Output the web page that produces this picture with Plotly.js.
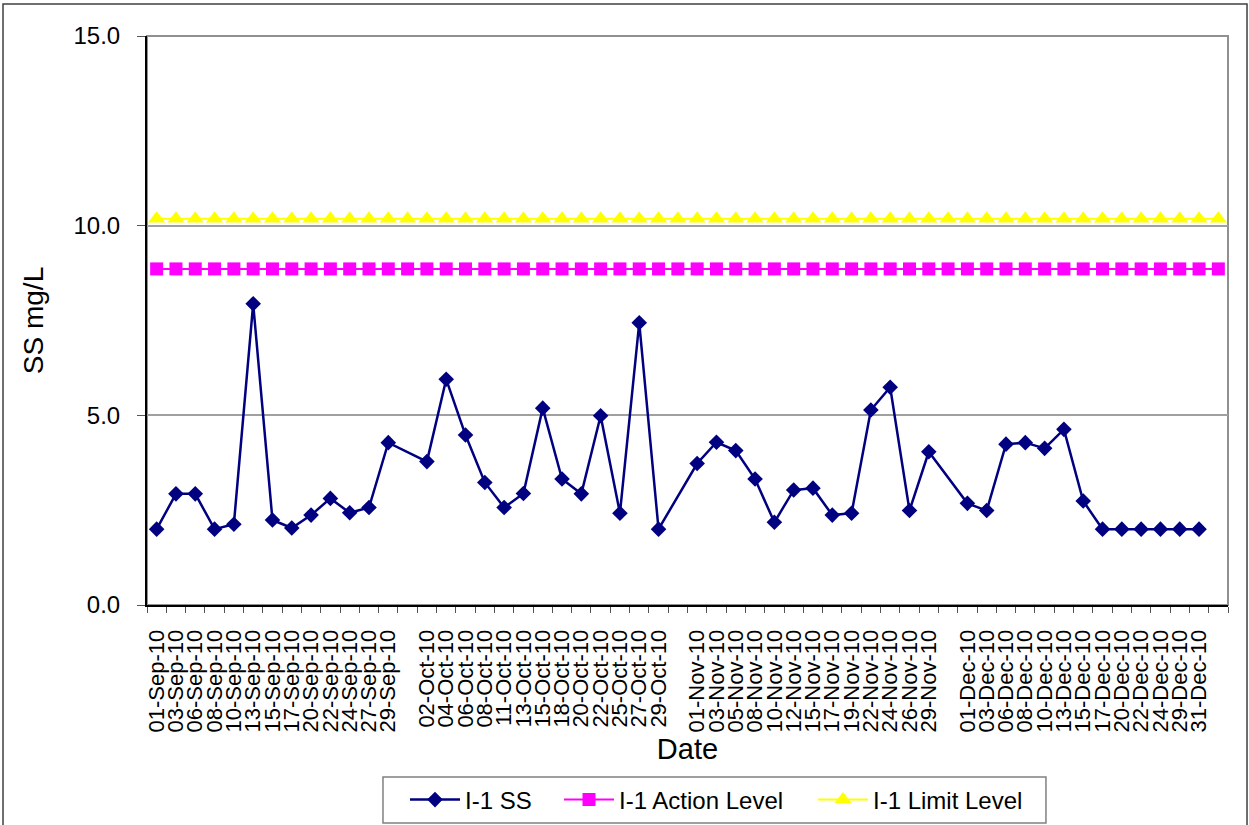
<!DOCTYPE html>
<html>
<head>
<meta charset="utf-8">
<script src="https://cdn.plot.ly/plotly-3.0.1.min.js"></script>
<style>
  html, body { margin: 0; padding: 0; background: #ffffff; }
  #chart { width: 1249px; height: 825px; }
</style>
</head>
<body>
<div id="chart"></div>
<script>
// Category axis (blank slots between months are kept as empty categories)
const categories = [
  '01-Sep-10','03-Sep-10','06-Sep-10','08-Sep-10','10-Sep-10','13-Sep-10','15-Sep-10','17-Sep-10','20-Sep-10','22-Sep-10','24-Sep-10','27-Sep-10','29-Sep-10',' ',
  '02-Oct-10','04-Oct-10','06-Oct-10','08-Oct-10','11-Oct-10','13-Oct-10','15-Oct-10','18-Oct-10','20-Oct-10','22-Oct-10','25-Oct-10','27-Oct-10','29-Oct-10','  ',
  '01-Nov-10','03-Nov-10','05-Nov-10','08-Nov-10','10-Nov-10','12-Nov-10','15-Nov-10','17-Nov-10','19-Nov-10','22-Nov-10','24-Nov-10','26-Nov-10','29-Nov-10','   ',
  '01-Dec-10','03-Dec-10','06-Dec-10','08-Dec-10','10-Dec-10','13-Dec-10','15-Dec-10','17-Dec-10','20-Dec-10','22-Dec-10','24-Dec-10','29-Dec-10','31-Dec-10','    '
];

// I-1 SS (mg/L); null where no sample
const ssValues = [
  2.00, 2.93, 2.93, 2.00, 2.13, 7.94, 2.24, 2.03, 2.37, 2.81, 2.43, 2.57, 4.28, null,
  3.78, 5.95, 4.48, 3.23, 2.57, 2.94, 5.19, 3.32, 2.93, 4.99, 2.42, 7.44, 2.00, null,
  3.73, 4.29, 4.07, 3.32, 2.18, 3.03, 3.08, 2.37, 2.42, 5.14, 5.74, 2.49, 4.04, null,
  2.68, 2.49, 4.24, 4.28, 4.13, 4.63, 2.74, 2.00, 2.00, 2.00, 2.00, 2.00, 2.00, null
];

const actionLevel = 8.86;
const limitLevel = 10.18;

const seriesNames = ['I-1 SS', 'I-1 Action Level', 'I-1 Limit Level'];
const yTickVals = [0, 5, 10, 15];

const actionValues = categories.map(() => actionLevel);
const limitValues = categories.map(() => limitLevel);

const FONT = 'Liberation Sans, Arial, sans-serif';

const traces = [
  {
    x: categories, y: ssValues, name: seriesNames[0], legend: 'legend',
    type: 'scatter', mode: 'lines+markers', connectgaps: true,
    line: { color: '#000080', width: 2.5 },
    marker: { symbol: 'diamond', size: 12, color: '#000080' }
  },
  {
    x: categories, y: actionValues, name: seriesNames[1], legend: 'legend2',
    type: 'scatter', mode: 'lines+markers',
    line: { color: '#FF00FF', width: 2 },
    marker: { symbol: 'square', size: 13, color: '#FF00FF' }
  },
  {
    x: categories, y: limitValues, name: seriesNames[2], legend: 'legend3',
    type: 'scatter', mode: 'lines+markers',
    line: { color: '#FFFF00', width: 2 },
    marker: { symbol: 'triangle-up', size: 15, color: '#FFFF00' }
  }
];

function legendAt(leftPx) {
  return {
    orientation: 'h',
    xref: 'container', yref: 'container',
    x: leftPx / 1249, xanchor: 'left',
    y: 1 - 800 / 825, yanchor: 'middle',
    bgcolor: 'rgba(0,0,0,0)', borderwidth: 0,
    font: { family: FONT, size: 24, color: '#000000' },
    itemwidth: 50
  };
}

const layout = {
  width: 1249, height: 825,
  paper_bgcolor: '#ffffff', plot_bgcolor: '#ffffff',
  margin: { l: 147, r: 21, t: 36, b: 220 },
  font: { family: FONT, color: '#000000' },
  showlegend: true,
  xaxis: {
    type: 'category',
    categoryorder: 'array', categoryarray: categories,
    range: [-0.5, categories.length - 0.5],
    tickmode: 'linear', tick0: 0, dtick: 1,
    tickson: 'boundaries',
    ticks: 'outside', ticklen: 6, tickcolor: '#555555', tickwidth: 1,
    tickangle: -90,
    tickfont: { family: FONT, size: 22, color: '#000000' },
    ticklabelstandoff: 14,
    showgrid: false, zeroline: false,
    showline: true, linecolor: '#000000', linewidth: 2,
    automargin: false,
    title: { text: 'Date', font: { family: FONT, size: 29, color: '#000000' }, standoff: 5 },
    fixedrange: true
  },
  yaxis: {
    range: [0, 15],
    tickvals: yTickVals, tickformat: '.1f',
    ticks: 'outside', ticklen: 8, tickcolor: '#555555', tickwidth: 1,
    tickfont: { family: FONT, size: 24, color: '#000000' },
    ticklabelstandoff: 12,
    showgrid: true, gridcolor: '#a0a0a0', gridwidth: 2,
    zeroline: false,
    showline: true, linecolor: '#000000', linewidth: 2,
    automargin: false,
    title: { text: 'SS mg/L', font: { family: FONT, size: 28, color: '#000000' }, standoff: 22 },
    fixedrange: true
  },
  legend: legendAt(405),
  legend2: legendAt(559),
  legend3: legendAt(813),
  shapes: [
    // plot-area frame
    { type: 'rect', xref: 'paper', yref: 'paper', x0: 0, x1: 1, y0: 0, y1: 1,
      line: { color: '#909090', width: 2 }, layer: 'below' },
    // chart-area frame
    { type: 'rect', xref: 'paper', yref: 'paper', x0: -0.1332, x1: 1.0176, y0: -0.40, y1: 1.0562,
      line: { color: '#404040', width: 1.5 }, layer: 'below' },
    // legend frame
    { type: 'rect', xref: 'paper', yref: 'paper', x0: 0.2183, x1: 0.8316, y0: -0.3831, y1: -0.3023,
      line: { color: '#808080', width: 1.5 }, fillcolor: '#ffffff', layer: 'below' }
  ]
};

Plotly.newPlot('chart', traces, layout, { displayModeBar: false, staticPlot: true });
</script>
</body>
</html>
